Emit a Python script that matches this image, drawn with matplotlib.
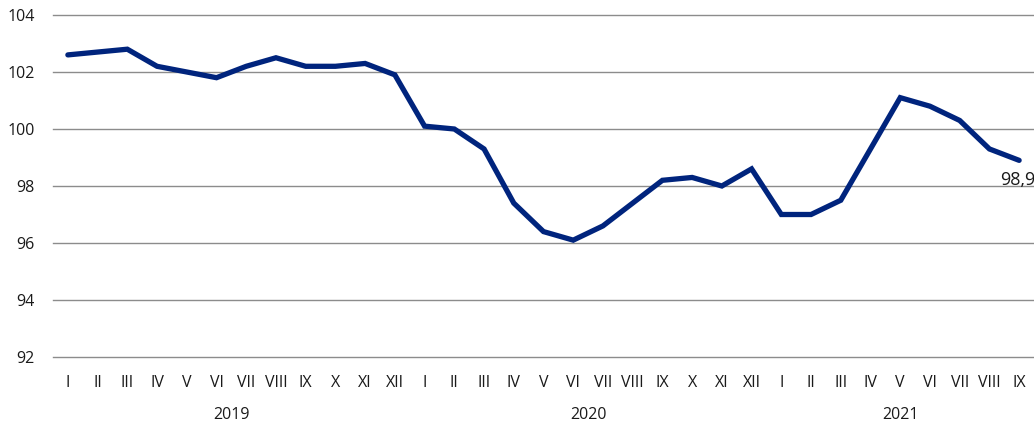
import matplotlib.pyplot as plt

# Data
months = ["I", "II", "III", "IV", "V", "VI", "VII", "VIII", "IX", "X", "XI", "XII"]
years = ["2019", "2020", "2021"]
months_per_year = [12, 12, 9]

values_2019 = [102.6, 102.7, 102.8, 102.2, 102.0, 101.8, 102.2, 102.5, 102.2, 102.2, 102.3, 101.9]
values_2020 = [100.1, 100.0, 99.3, 97.4, 96.4, 96.1, 96.6, 97.4, 98.2, 98.3, 98.0, 98.6]
values_2021 = [97.0, 97.0, 97.5, 99.3, 101.1, 100.8, 100.3, 99.3, 98.9]

values = values_2019 + values_2020 + values_2021
tick_labels = []
for n in months_per_year:
    tick_labels += months[:n]
x = list(range(len(values)))

plt.rcParams['font.family'] = ['Open Sans', 'DejaVu Sans']

fig = plt.figure(figsize=(10.34, 4.25), dpi=100)
ax = fig.add_axes([53 / 1034, 1 - 357 / 425, 1 - 53 / 1034, (357 - 15) / 425])

ax.plot(x, values, color='#00247d', linewidth=3.8, solid_capstyle='round',
        solid_joinstyle='miter', zorder=3)

# last value label
ax.annotate(f"{values[-1]:.1f}".replace(".", ","),
            (x[-1], values[-1]), xytext=(-1, -8), textcoords='offset points',
            ha='center', va='top', fontsize=13, color='#1a1a1a',
            annotation_clip=False)

ax.set_xlim(-0.5, len(values) - 0.5)
ax.set_ylim(92, 104)
ax.set_yticks(range(92, 105, 2))
ax.set_xticks(x)
ax.set_xticklabels(tick_labels)
ax.tick_params(axis='both', length=0, labelsize=11.5, colors='#1a1a1a')
ax.tick_params(axis='y', pad=13)
ax.tick_params(axis='x', pad=13)

ax.grid(axis='y', color='#8c8c8c', linewidth=1.0)
for gl in ax.get_ygridlines():
    gl.set_clip_on(False)
ax.set_axisbelow(True)
for s in ax.spines.values():
    s.set_visible(False)

# year labels centred under each group of months
start = 0
for year, n in zip(years, months_per_year):
    center = start + (n - 1) / 2
    ax.text(center, -0.17, year, transform=ax.get_xaxis_transform(),
            ha='center', va='center', fontsize=11.5, color='#1a1a1a')
    start += n

fig.savefig("out.png", dpi=100)
